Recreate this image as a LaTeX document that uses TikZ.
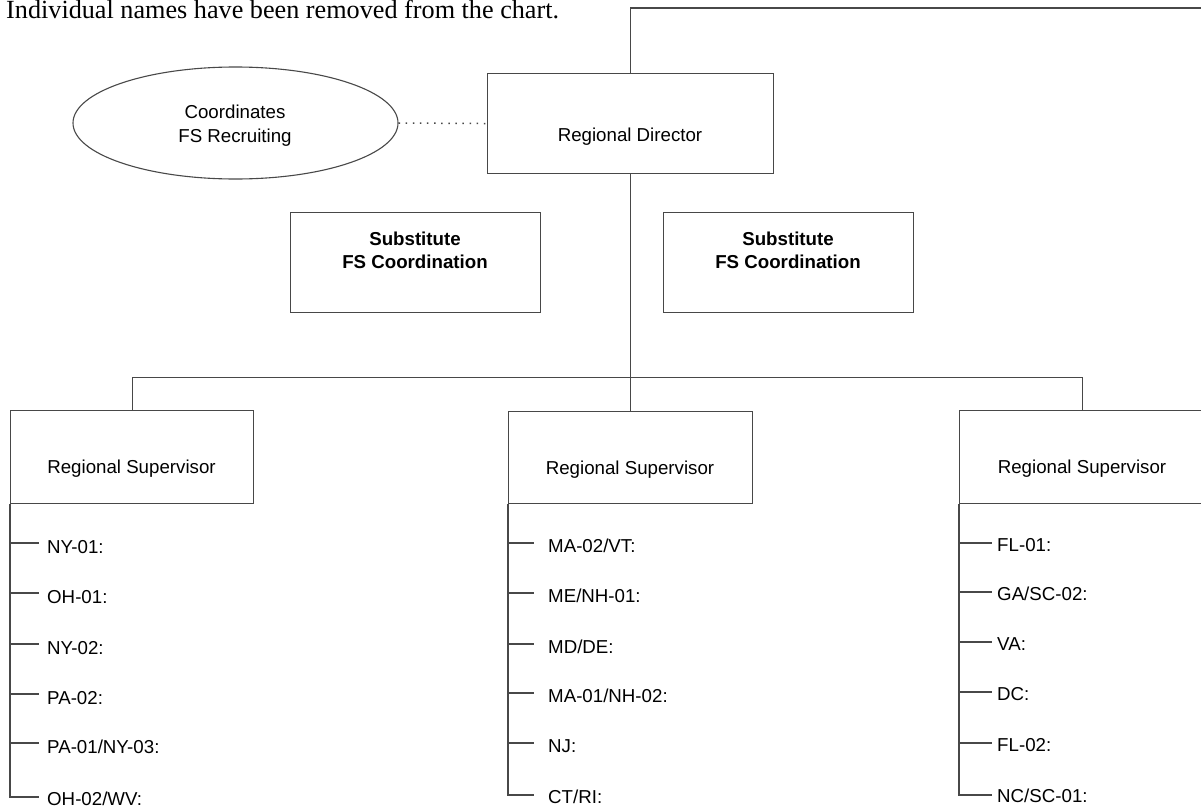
\documentclass[tikz,border=0pt]{standalone}
\usepackage{fontspec}
\setmainfont{Liberation Sans}
\newfontfamily\serifface{Liberation Serif}
\usetikzlibrary{shapes.geometric}
\definecolor{ln}{RGB}{72,72,72}
\begin{document}
\begin{tikzpicture}[x=1pt,y=-1pt,
  box/.style={draw=ln, line width=1.1pt, rectangle, inner sep=0pt, anchor=north west},
  conn/.style={draw=ln, line width=1.1pt},
  dotconn/.style={draw=ln, line width=1.5pt, dash pattern=on 1.5pt off 5.6pt},
  txt/.style={inner sep=0pt, anchor=base, font=\fontsize{18.7}{22}\selectfont},
  btxt/.style={inner sep=0pt, anchor=base, font=\fontsize{18.7}{22}\selectfont\bfseries},
  item/.style={inner sep=0pt, anchor=base west, font=\fontsize{18.7}{22}\selectfont},
]
\useasboundingbox (0,0) rectangle (1201,808);
\clip (0,0) rectangle (1201,808);

% heading
\node[inner sep=0pt, anchor=base west, font=\serifface\fontsize{26.2}{30}\selectfont] (note) at (6,19) {Individual names have been removed from the chart.};

% boxes
\node[box, minimum width=286pt, minimum height=100pt] (dir) at (487,73) {};
\node[box, minimum width=250pt, minimum height=100pt] (subL) at (290,212) {};
\node[box, minimum width=250pt, minimum height=100pt] (subR) at (663,212) {};
\node[box, minimum width=243pt, minimum height=93pt] (rsL) at (10,410) {};
\node[box, minimum width=244pt, minimum height=92pt] (rsM) at (508,411) {};
\node[box, minimum width=246pt, minimum height=93pt] (rsR) at (959,410) {};
\node[draw=ln, line width=1.1pt, ellipse, inner sep=0pt, minimum width=325pt, minimum height=112pt] (ell) at (235.5,123) {};

% texts
\node[txt] (dirT) at (630,141) {Regional Director};
\node[txt] (ellT1) at (235,118) {Coordinates};
\node[txt] (ellT2) at (235,142) {FS Recruiting};
\node[btxt] (subLT1) at (415,245) {Substitute};
\node[btxt] (subLT2) at (415,268) {FS Coordination};
\node[btxt] (subRT1) at (788,245) {Substitute};
\node[btxt] (subRT2) at (788,268) {FS Coordination};
\node[txt] (rsLT) at (131.5,473) {Regional Supervisor};
\node[txt] (rsMT) at (630,474) {Regional Supervisor};
\node[txt] (rsRT) at (1082,473) {Regional Supervisor};

% connectors
\coordinate (topend) at (1215,8);
\draw[conn] (dir.north) |- (topend);
\draw[dotconn] (ell.east) -- (dir.west);
\draw[conn] (dir.south) -- (rsM.north);
\coordinate (bus) at (630,377.5);
\draw[conn] (rsL.north) |- (bus) -| (rsR.north);

% left list
\coordinate (Lend) at (39,797);
\draw[conn] (rsL.south west) |- (Lend);
\foreach \y/\t in {543/{NY-01:},593/{OH-01:},644/{NY-02:},694/{PA-02:},743/{PA-01/NY-03:}} {
  \coordinate (L\y) at (10,\y);
  \draw[conn] (L\y) -- ++(29,0);
  \node[item] (Lt\y) at (47,{\y+10}) {\t};
}
\node[item] (Lt797) at (47,805) {OH-02/WV:};

% middle list
\coordinate (Mend) at (534,795);
\draw[conn] (rsM.south west) |- (Mend);
\foreach \y/\t in {543/{MA-02/VT:},593/{ME/NH-01:},644/{MD/DE:},693/{MA-01/NH-02:},743/{NJ:}} {
  \coordinate (M\y) at (508,\y);
  \draw[conn] (M\y) -- ++(26,0);
  \node[item] (Mt\y) at (548,{\y+9}) {\t};
}
\node[item] (Mt795) at (548,803) {CT/RI:};

% right list
\coordinate (Rend) at (992,795);
\draw[conn] (rsR.south west) |- (Rend);
\foreach \y/\t in {543/{FL-01:},592/{GA/SC-02:},642/{VA:},692/{DC:},743/{FL-02:}} {
  \coordinate (R\y) at (959,\y);
  \draw[conn] (R\y) -- ++(33,0);
  \node[item] (Rt\y) at (997,{\y+8}) {\t};
}
\node[item] (Rt795) at (997,802) {NC/SC-01:};
\end{tikzpicture}
\end{document}
